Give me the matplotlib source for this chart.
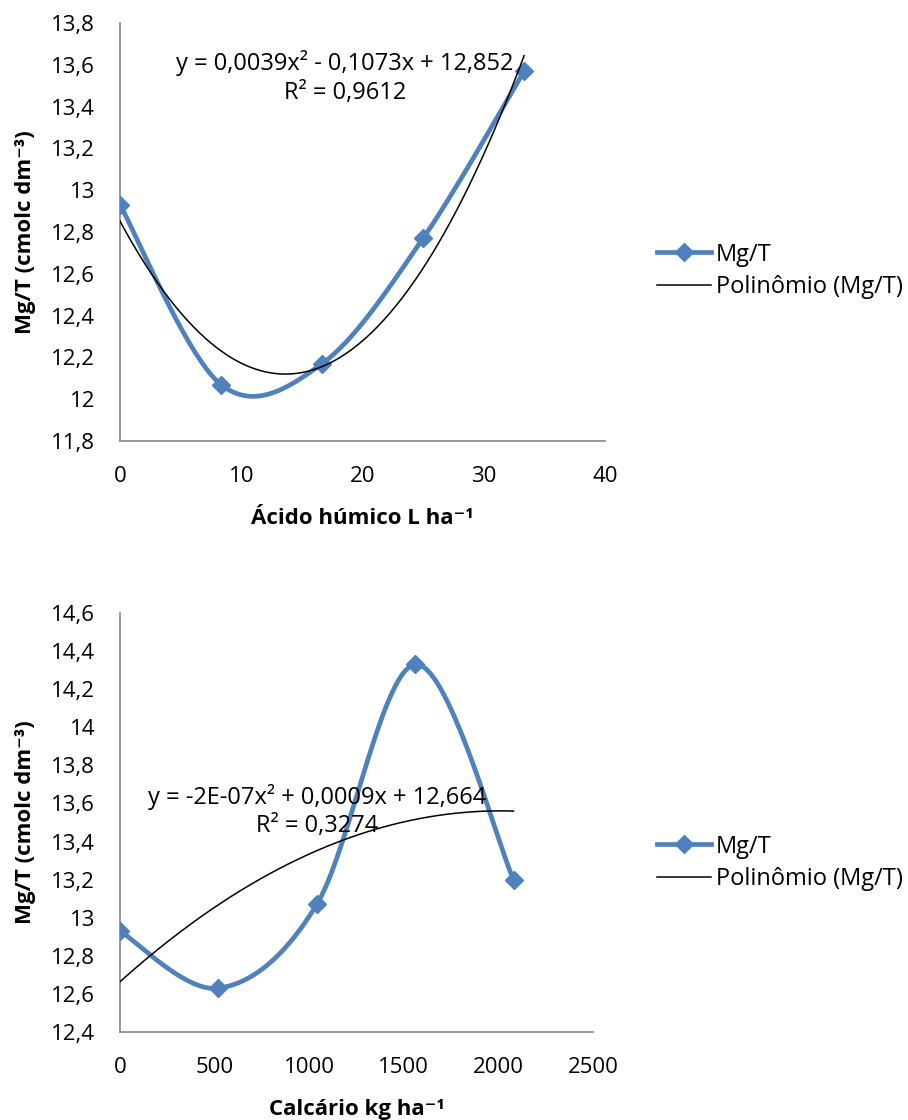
import numpy as np
import matplotlib.pyplot as plt

# top chart: humic acid dose
humic_dose = [0, 8.33, 16.67, 25, 33.33]
humic_mg_t = [12.93, 12.07, 12.17, 12.77, 13.57]
humic_eq = "y = 0,0039x² - 0,1073x + 12,852\nR² = 0,9612"

# bottom chart: limestone dose
lime_dose = [0, 520, 1040, 1560, 2080]
lime_mg_t = [12.93, 12.63, 13.07, 14.33, 13.20]
lime_eq = "y = -2E-07x² + 0,0009x + 12,664\nR² = 0,3274"

FONT = ["Open Sans", "DejaVu Sans"]
BLUE = "#4F81BD"
GRAY = "#868686"
FS = 16

plt.rcParams["font.family"] = FONT
plt.rcParams["font.size"] = FS


def smooth_curve(x, y, n=40):
    """Excel-style smoothed line: Bezier segments with Catmull-Rom control points."""
    p = np.column_stack([x, y]).astype(float)
    ext = np.vstack([p[0], p, p[-1]])
    out = []
    t = np.linspace(0, 1, n)[:, None]
    for i in range(len(p) - 1):
        p0, p3 = ext[i + 1], ext[i + 2]
        c1 = p0 + (ext[i + 2] - ext[i]) / 6
        c2 = p3 - (ext[i + 3] - ext[i + 1]) / 6
        seg = ((1 - t) ** 3) * p0 + 3 * ((1 - t) ** 2) * t * c1 \
            + 3 * (1 - t) * t ** 2 * c2 + t ** 3 * p3
        out.append(seg)
    pts = np.vstack(out)
    return pts[:, 0], pts[:, 1]


def draw_panel(ax, x, y, eq, eq_pos, xlabel, xlim, xticks, ylim, yticks, legend_pos):
    sx, sy = smooth_curve(x, y)
    ax.plot(sx, sy, color=BLUE, lw=3.4, solid_capstyle="round", zorder=3)
    ax.plot(x, y, linestyle="none", marker="D", ms=9.5, color=BLUE, zorder=4)

    coef = np.polyfit(x, y, 2)
    tx = np.linspace(min(x), max(x), 200)
    ax.plot(tx, np.polyval(coef, tx), color="black", lw=1.1, zorder=5)

    ax.text(eq_pos[0], eq_pos[1], eq, transform=ax.transAxes, ha="center",
            va="center", fontsize=17, linespacing=1.25, zorder=6)

    ax.set_xlim(*xlim)
    ax.set_ylim(*ylim)
    ax.set_xticks(xticks)
    ax.set_yticks(yticks)
    ax.set_yticklabels([f"{v:g}".replace(".", ",") for v in yticks])
    ax.set_xticklabels([f"{v:g}" for v in xticks])
    ax.tick_params(length=0, labelsize=FS)
    ax.tick_params(axis="y", pad=18)
    ax.tick_params(axis="x", pad=18)
    for s in ["top", "right"]:
        ax.spines[s].set_visible(False)
    for s in ["left", "bottom"]:
        ax.spines[s].set_color(GRAY)
        ax.spines[s].set_linewidth(1.2)

    ax.set_xlabel(xlabel, fontweight="bold", fontsize=FS, labelpad=15)
    ax.set_ylabel("Mg/T (cmolc dm⁻³)", fontweight="bold", fontsize=FS, labelpad=11)

    h1, = ax.plot([], [], color=BLUE, lw=3.4, marker="D", ms=9.5)
    h2, = ax.plot([], [], color="black", lw=1.1)
    ax.legend([h1, h2], ["Mg/T", "Polinômio (Mg/T)"], loc="center left",
              bbox_to_anchor=legend_pos, frameon=False, fontsize=17,
              handlelength=2.3, handletextpad=0.2, labelspacing=0.38,
              borderaxespad=0, borderpad=0)


fig = plt.figure(figsize=(9.08, 11.2), dpi=100)

ax1 = fig.add_axes([120 / 908, 1 - 441 / 1120, 485 / 908, 418 / 1120])
draw_panel(ax1, humic_dose, humic_mg_t, humic_eq, (0.464, 0.87),
           "Ácido húmico L ha⁻¹", (0, 40), [0, 10, 20, 30, 40],
           (11.8, 13.8), [11.8, 12, 12.2, 12.4, 12.6, 12.8, 13, 13.2, 13.4, 13.6, 13.8],
           ((657 - 120) / 485, (441 - 271) / 418))

ax2 = fig.add_axes([120 / 908, 1 - 1032 / 1120, 473 / 908, 419 / 1120])
draw_panel(ax2, lime_dose, lime_mg_t, lime_eq, (0.416, 0.527),
           "Calcário kg ha⁻¹", (0, 2500), [0, 500, 1000, 1500, 2000, 2500],
           (12.4, 14.6), [12.4, 12.6, 12.8, 13, 13.2, 13.4, 13.6, 13.8, 14, 14.2, 14.4, 14.6],
           ((657 - 120) / 473, (1032 - 863) / 419))

fig.savefig("out.png", dpi=100)
